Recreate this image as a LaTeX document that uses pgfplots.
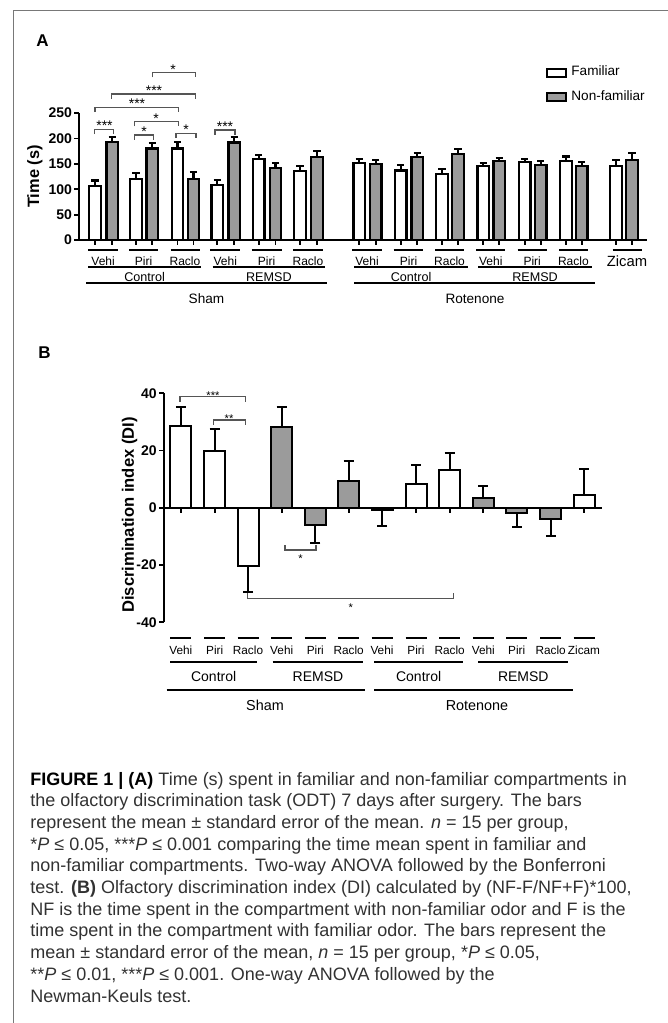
\documentclass[border=0pt]{standalone}
\usepackage{pgfplots}
\pgfplotsset{compat=1.18}
\usepackage{pgfplotstable}
\usepackage{graphicx}
\usepackage{fontspec}
\setmainfont{Liberation Sans}

\definecolor{barfill}{RGB}{155,155,155}
\definecolor{brkcol}{RGB}{85,85,85}
\definecolor{framecol}{RGB}{120,120,120}
\definecolor{captxt}{RGB}{50,50,50}
\newcommand{\fs}[1]{\fontsize{#1}{#1}\selectfont}

% panel A: x = bar centre (px), y = mean time (s), e = s.e.m.
\pgfplotstableread{
x y e
95.0 107 10
136.0 120 12
177.5 180 12.5
217.3 108.5 10
258.7 159 9
300.0 136 10
359.3 151 8
400.7 137 10
442.0 130 10
483.3 145 6.6
524.7 153 7
566.0 156 8.5
616.0 145 13
}\famA
\pgfplotstableread{
x y e
112.3 193 9
152.3 180 11
193.5 120 14
234.2 192 10
275.5 141 10
317.0 164 10.5
375.7 150 7
417.3 163 9
458.0 170 8.6
499.3 155 6.6
540.7 148 8
581.7 145 8.6
632.0 158 13
}\nfamA

% panel B: discrimination index, ep/em = upper/lower error
\pgfplotstableread{
x y ep em
180.8 28.5 6.6 0
214.7 19.9 7.5 0
248.0 -20.3 0 9.1
382.0 -0.6 0 5.7
416.0 8.4 6.5 0
449.7 13.2 6.1 0
584.0 4.6 8.8 0
}\whiteB
\pgfplotstableread{
x y ep em
281.7 28.1 7 0
315.3 -6.0 0 6.4
348.7 9.5 6.9 0
483.3 3.3 4.3 0
516.7 -1.75 0 5.1
550.7 -4.0 0 5.7
}\grayB

\tikzset{brk/.style={draw=brkcol, line width=0.55pt},
         grp/.style={draw=black, line width=1pt},
         lab/.style={anchor=base, inner sep=0}}

\begin{document}
\begin{tikzpicture}
\useasboundingbox[x=0.5pt,y=-0.5pt] (0,0) rectangle (668,1023);
\draw[framecol, line width=0.6pt, x=0.5pt, y=-0.5pt] (13.3,1023) -- (13.3,10.7) -- (668,10.7);

% ---------- A
\begin{axis}[
  at={(39.5pt,-120pt)}, anchor=south west,
  scale only axis, width=284pt, height=63.5pt,
  xmin=79, xmax=647, ymin=0, ymax=250,
  axis lines=left, axis line style={-, line width=1pt},
  enlargelimits=false, clip=false,
  ybar, bar width=11.5, bar shift=0pt,
  xtick={95,112.3,136,152.3,177.5,193.5,217.3,234.2,258.7,275.5,300,317,359.3,375.7,400.7,417.3,442,458,483.3,499.3,524.7,540.7,566,581.7,616,632},
  xticklabels={},
  ytick={0,50,100,150,200,250},
  tick align=outside, major tick length=2.3pt,
  tick style={line width=0.9pt, black},
  /pgf/number format/assume math mode=true,
  yticklabel style={font=\bfseries\fs{7}, inner sep=1pt},
  ylabel={Time (s)},
  ylabel style={font=\bfseries\fs{8.2}, at={(axis description cs:-0.0775,0.5)}, anchor=center},
  legend style={at={(axis cs:546,351)}, anchor=north west, draw=none, fill=none,
    inner sep=0pt, font=\fs{6.8}, row sep=2pt, cells={anchor=west}},
  legend image code/.code={\draw[#1, line width=1pt] (0pt,-2pt) rectangle (9.5pt,2pt);},
]
\addplot[fill=white, draw=black, line width=1.1pt,
  error bars/.cd, y dir=plus, y explicit,
  error bar style={line width=1.1pt, black},
  error mark options={rotate=90, line width=1.1pt, mark size=1.8pt, black}]
  table[x=x, y=y, y error=e] {\famA};
\addplot[fill=barfill, draw=black, line width=1.1pt,
  error bars/.cd, y dir=plus, y explicit,
  error bar style={line width=1.1pt, black},
  error mark options={rotate=90, line width=1.1pt, mark size=1.8pt, black}]
  table[x=x, y=y, y error=e] {\nfamA};
\legend{Familiar, Non-familiar}
\end{axis}

% ---------- B
\begin{axis}[
  at={(82pt,-311.15pt)}, anchor=south west,
  scale only axis, width=219pt, height=114.5pt,
  xmin=164, xmax=602, ymin=-40, ymax=40,
  axis x line=middle, axis y line=left, axis line style={-, line width=1pt},
  enlargelimits=false, clip=false,
  ybar, bar width=21, bar shift=0pt,
  xtick={180.8,214.7,248,281.7,315.3,348.7,382,416,449.7,483.3,516.7,550.7,584},
  xticklabels={},
  ytick={-40,-20,0,20,40},
  xtick align=outside, ytick align=outside, major tick length=2.5pt,
  tick style={line width=0.9pt, black},
  /pgf/number format/assume math mode=true,
  yticklabel style={font=\bfseries\fs{7}, inner sep=1pt},
  ylabel={Discrimination index (DI)},
  ylabel style={font=\bfseries\fs{8.3}, at={(axis description cs:-0.0788,0.4686)}, anchor=center},
]
\addplot[fill=white, draw=black, line width=1pt,
  error bars/.cd, y dir=both, y explicit,
  error bar style={line width=1pt, black},
  error mark options={rotate=90, line width=1pt, mark size=2.5pt, black}]
  table[x=x, y=y, y error plus=ep, y error minus=em] {\whiteB};
\addplot[fill=barfill, draw=black, line width=1pt,
  error bars/.cd, y dir=both, y explicit,
  error bar style={line width=1pt, black},
  error mark options={rotate=90, line width=1pt, mark size=2.5pt, black}]
  table[x=x, y=y, y error plus=ep, y error minus=em] {\grayB};
\end{axis}

\begin{scope}[x=0.5pt, y=-0.5pt]
% panel letters
\node[anchor=base west, inner sep=0, font=\bfseries\fs{8.5}] at (36,46.7) {A};
\node[anchor=base west, inner sep=0, font=\bfseries\fs{8.5}] at (38,358) {B};

% A: significance brackets
\foreach \xa/\xb/\yy/\xs/\st in {94.3/113.3/129.3/104.5/{***}, 134.3/153.3/135/144/{*}, 176/196/133.3/186/{*},
   134.3/178.3/121.7/156/{*}, 95/178.3/107.3/137/{***}, 111.7/195.7/94/154/{***},
   152.3/195.7/72.7/173/{*}, 215/235/130/225/{***}}{
  \draw[brk] (\xa,\yy+4.7) -- (\xa,\yy) -- (\xb,\yy) -- (\xb,\yy+4.7);
  \node[lab, font=\fs{7}] at (\xs,\yy+1.5) {\st};
}
% A: category lines and labels
\foreach \xa/\xb/\t in {88/118.3/Vehi, 129/158.3/Piri, 170.5/199.5/Raclo, 210.3/240.2/Vehi,
   251.7/281.5/Piri, 293/323/Raclo, 352.3/381.7/Vehi, 393.7/423.3/Piri, 435/464/Raclo,
   476.3/505.3/Vehi, 517.7/546.7/Piri, 559/587.7/Raclo}{
  \draw[grp] (\xa,250) -- (\xb,250);
  \node[lab, font=\fs{6}] at ({(\xa+\xb)/2},265) {\t};
}
\draw[grp] (612.7,250) -- (641.7,250);
\node[lab, font=\fs{7.4}] at (627,266) {Zicam};
\foreach \xa/\xb/\t in {88.3/201/Control, 212.7/325/REMSD, 354/468.3/Control, 478.3/591.7/REMSD}{
  \draw[grp] (\xa,266.7) -- (\xb,266.7);
  \node[lab, font=\fs{6.3}] at ({(\xa+\xb)/2},281.2) {\t};
}
\draw[grp] (86,283.3) -- (327.3,283.3);
\draw[grp] (354,283.3) -- (595,283.3);
\node[lab, font=\fs{6.8}] at (206.5,303.2) {Sham};
\node[lab, font=\fs{6.8}] at (475,303.2) {Rotenone};

% B: significance brackets
\draw[brk] (180,401.7) -- (180,396.7) -- (245.3,396.7) -- (245.3,401.7);
\node[lab, font=\fs{5.6}] at (213,399) {***};
\draw[brk] (213.3,425) -- (213.3,420) -- (245.3,420) -- (245.3,425);
\node[lab, font=\fs{5.6}] at (229,422) {**};
\draw[brk] (285,545) -- (285,550) -- (316,550) -- (316,545);
\node[lab, font=\fs{5.6}] at (300.5,562) {*};
\draw[brk] (247.7,593.3) -- (247.7,598.7) -- (453.3,598.7) -- (453.3,593.3);
\node[lab, font=\fs{5.6}] at (350.7,611.5) {*};

% B: category lines and labels
\foreach \xc/\t in {180.8/Vehi, 214.7/Piri, 248/Raclo, 281.7/Vehi, 315.3/Piri, 348.7/Raclo,
   382/Vehi, 416/Piri, 449.7/Raclo, 483.3/Vehi, 516.7/Piri, 550.7/Raclo, 584/Zicam}{
  \draw[grp] (\xc-10.5,638.3) -- (\xc+10.5,638.3);
  \node[lab, font=\fs{5.9}] at (\xc,654.9) {\t};
}
\foreach \xa/\xb/\t in {170/257.3/Control, 272.7/363.3/REMSD, 374/463.3/Control, 478.3/568.3/REMSD}{
  \draw[grp] (\xa,662.3) -- (\xb,662.3);
  \node[lab, font=\fs{7}] at ({(\xa+\xb)/2},681) {\t};
}
\draw[grp] (166.7,690) -- (365,690);
\draw[grp] (374,690) -- (573.3,690);
\node[lab, font=\fs{7.2}] at (265,710.7) {Sham};
\node[lab, font=\fs{7.2}] at (477,710.7) {Rotenone};

% caption
\begin{scope}[every node/.style={anchor=base west, inner sep=0, font=\fs{9}, text=captxt}]
\node at (30,785.0) {\textbf{\color{black}FIGURE 1 | (A)} Time (s) spent in familiar and non-familiar compartments in};
\node at (30,806.7) {the olfactory discrimination task (ODT) 7 days after surgery. The bars};
\node at (30,828.4) {represent the mean ± standard error of the mean. \textit{n} = 15 per group,};
\node at (30,850.1) {*\textit{P} ≤ 0.05, ***\textit{P} ≤ 0.001 comparing the time mean spent in familiar and};
\node at (30,871.8) {non-familiar compartments. Two-way ANOVA followed by the Bonferroni};
\node at (30,893.5) {test. \textbf{(B)} Olfactory discrimination index (DI) calculated by (NF-F/NF+F)*100,};
\node at (30,915.2) {NF is the time spent in the compartment with non-familiar odor and F is the};
\node at (30,936.9) {time spent in the compartment with familiar odor. The bars represent the};
\node at (30,958.6) {mean ± standard error of the mean, \textit{n} = 15 per group, *\textit{P} ≤ 0.05,};
\node at (30,980.3) {**\textit{P} ≤ 0.01, ***\textit{P} ≤ 0.001. One-way ANOVA followed by the};
\node at (30,1002.0) {Newman-Keuls test.};
\end{scope}
\end{scope}
\end{tikzpicture}
\end{document}
